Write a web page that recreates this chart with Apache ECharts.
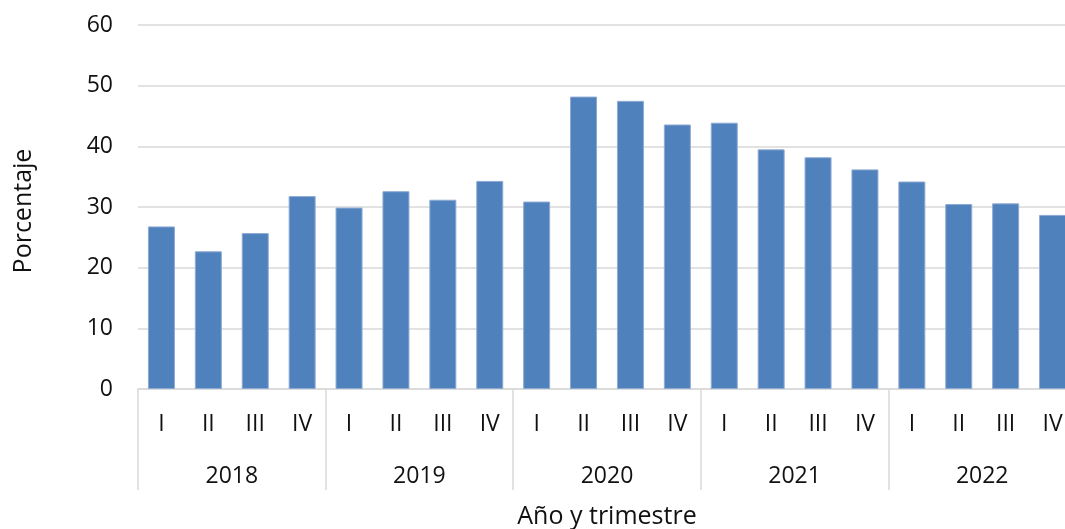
<!DOCTYPE html>
<html>
<head>
<meta charset="utf-8">
<script src="https://cdn.jsdelivr.net/npm/echarts@6/dist/echarts.min.js"></script>
<style>
  html, body { margin: 0; padding: 0; background: #fff; }
  #chart { width: 1065px; height: 529px; }
</style>
</head>
<body>
<div id="chart"></div>
<script>
// datos
const quarters = ['I', 'II', 'III', 'IV', 'I', 'II', 'III', 'IV', 'I', 'II', 'III', 'IV',
  'I', 'II', 'III', 'IV', 'I', 'II', 'III', 'IV'];
const years = ['2018', '2019', '2020', '2021', '2022'];
const values = [26.8, 22.7, 25.7, 31.8, 29.9, 32.6, 31.2, 34.3, 30.9, 48.2, 47.5, 43.6,
  43.9, 39.5, 38.2, 36.2, 34.2, 30.5, 30.6, 28.7];
const yTicks = { min: 0, max: 60, interval: 10 };

const font = "'Open Sans', sans-serif";
const gridColor = '#d9d9d9';
const txt = '#111';

const myChart = echarts.init(document.getElementById('chart'));

const option = {
  animation: false,
  textStyle: { fontFamily: font },
  grid: { left: 138, top: 25, width: 938, height: 364, outerBoundsMode: 'none' },
  xAxis: [
    {
      type: 'category',
      data: quarters,
      position: 'bottom',
      axisLine: { lineStyle: { color: gridColor, width: 1.5 } },
      axisTick: { show: false },
      axisLabel: { interval: 0, margin: 24, fontSize: 23, color: txt, fontFamily: font },
      name: 'Año y trimestre',
      nameLocation: 'middle',
      nameGap: 115,
      nameTextStyle: { fontSize: 25, color: txt, fontFamily: font },
    },
    {
      type: 'category',
      data: years,
      position: 'bottom',
      axisLine: { show: false },
      axisTick: { show: true, interval: 0, length: 101, lineStyle: { color: gridColor, width: 1.5 } },
      axisLabel: { interval: 0, margin: 76, fontSize: 23, color: txt, fontFamily: font },
      splitLine: { show: false },
    },
  ],
  yAxis: {
    type: 'value',
    min: yTicks.min,
    max: yTicks.max,
    interval: yTicks.interval,
    axisLine: { show: false },
    axisTick: { show: false },
    axisLabel: { margin: 25, fontSize: 23, color: txt, fontFamily: font },
    splitLine: { lineStyle: { color: gridColor, width: 1.5 } },
    name: 'Porcentaje',
    nameLocation: 'middle',
    nameGap: 102,
    nameTextStyle: { fontSize: 25, color: txt, fontFamily: font, padding: [0, 0, 0, -8] },
  },
  series: [
    {
      type: 'bar',
      data: values,
      xAxisIndex: 0,
      barWidth: 27,
      itemStyle: { color: '#4f81bd', borderColor: '#8eabd4', borderWidth: 1 },
    },
  ],
};

myChart.setOption(option);
</script>
</body>
</html>
